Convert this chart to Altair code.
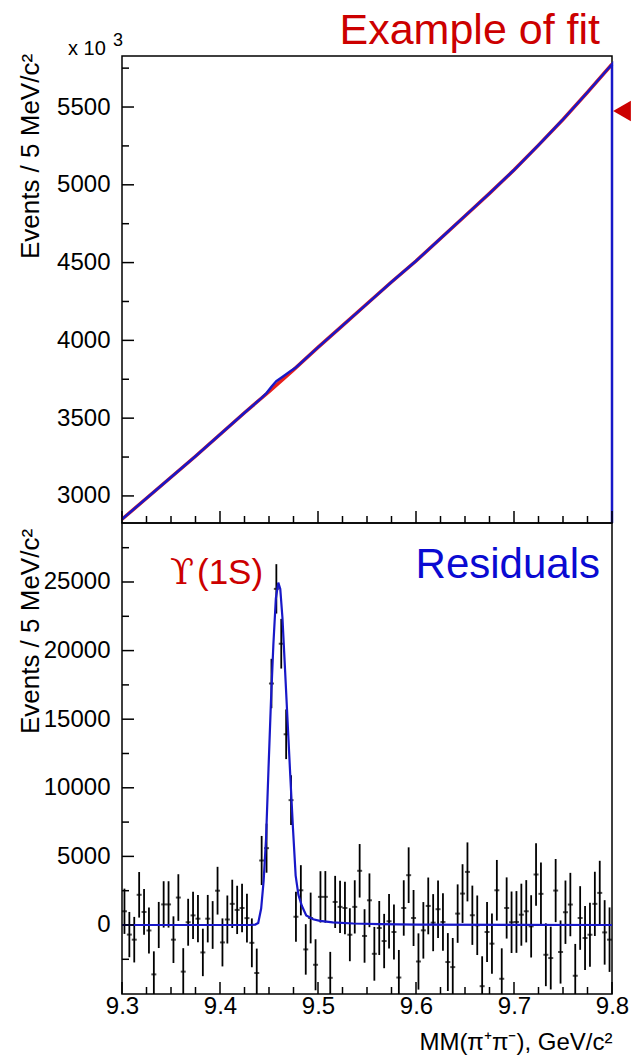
import altair as alt
import pandas as pd

FONT = "Liberation Sans"
RED = "#cc0000"
BLUE = "#1818c8"

# ---------------- top panel (events x10^3 / 5 MeV/c^2) ----------------
top_mass = [9.300, 9.325, 9.350, 9.375, 9.400, 9.425, 9.450, 9.475, 9.500, 9.525, 9.550,
            9.575, 9.600, 9.625, 9.650, 9.675, 9.700, 9.725, 9.750, 9.775, 9.800]
top_fit = [2850, 2985, 3120, 3255, 3395, 3535, 3670, 3810, 3955, 4095, 4235,
           4375, 4510, 4655, 4800, 4945, 5095, 5255, 5420, 5595, 5775]

data_mass = [9.300, 9.325, 9.350, 9.375, 9.400, 9.425, 9.4425, 9.4475, 9.4525, 9.4575,
             9.4625, 9.4675, 9.4725, 9.4775, 9.500, 9.525, 9.550, 9.575, 9.600, 9.625,
             9.650, 9.675, 9.700, 9.725, 9.750, 9.775, 9.800, 9.800]
data_events = [2850, 2985, 3120, 3255, 3395, 3535, 3630, 3661, 3702, 3737,
               3760, 3782, 3805, 3826, 3955, 4095, 4235, 4375, 4510, 4655,
               4800, 4945, 5095, 5255, 5420, 5595, 5775, 2826]

# ---------------- bottom panel: residuals ----------------
resid_values = [1000, -700, -1070, 2200, 950, -400, -3600, 0, 1500, 1500,
                -1070, 2000, -3400, 200, 700, 460, -2000, 460, 0, 2500,
                -1270, 400, 1540, 1100, 1240, 500, -1300, -3500, 4700, 5600,
                17600, 24500, 20500, 13900, 9100, 600, 2530, -1780, 510, -2900,
                2050, 2050, -3850, 1680, 1320, 1240, -710, 1320, 3950, -800,
                1800, -2100, -220, -1170, 270, -510, -3830, 1240, 3630, 510,
                -2660, -390, 1390, 170, 1150, 220, -2700, -3070, 830, 2290,
                3870, 710, -20, -4460, -510, -1360, 2530, -3920, 1240, 200,
                220, 750, 1000, -100, 3680, 2270, -2170, -2410, 2510, -1970,
                930, 1490, -3700, 510, -950, -710, 1540, 2340, -540, -1070]
resid_errors = [1650, 1650, 1660, 1660, 1670, 1670, 1680, 1680, 1690, 1690,
                1700, 1700, 1710, 1710, 1720, 1720, 1730, 1730, 1740, 1740,
                1750, 1750, 1760, 1760, 1770, 1770, 1780, 1780, 1790, 1790,
                1800, 1800, 1810, 1810, 1820, 1820, 1830, 1840, 1850, 1860,
                1870, 1880, 1890, 1900, 1910, 1920, 1930, 1940, 1950, 1950,
                1960, 1960, 1970, 1980, 1990, 2000, 2010, 2020, 2030, 2040,
                2050, 2060, 2070, 2080, 2090, 2100, 2110, 2120, 2130, 2140,
                2150, 2160, 2170, 2180, 2190, 2200, 2210, 2220, 2230, 2240,
                2250, 2260, 2270, 2270, 2280, 2280, 2290, 2290, 2300, 2300,
                2310, 2310, 2320, 2320, 2330, 2330, 2340, 2340, 2350, 2350]
bin_centers = [round(9.3025 + 0.005 * i, 4) for i in range(len(resid_values))]

fit_mass = [9.300, 9.430, 9.436, 9.439, 9.442, 9.4445, 9.447, 9.4495, 9.452, 9.4545,
            9.457, 9.4595, 9.4615, 9.4637, 9.4663, 9.469, 9.4717, 9.4745, 9.4772, 9.480,
            9.4835, 9.488, 9.495, 9.502, 9.515, 9.536, 9.563, 9.600, 9.700, 9.800]
fit_resid = [0, 0, 30, 150, 1200, 3200, 6300, 11400, 16300, 20500,
             23800, 24950, 24500, 22400, 18700, 14800, 10900, 7000, 3600, 2200,
             1400, 700, 420, 300, 190, 110, 60, 30, 10, 0]

# ---------------- axis tick values ----------------
x_major = [9.3, 9.4, 9.5, 9.6, 9.7, 9.8]
x_minor = [9.325, 9.35, 9.375, 9.425, 9.45, 9.475, 9.525, 9.55, 9.575, 9.625,
           9.65, 9.675, 9.725, 9.75, 9.775]
top_y_major = [3000, 3500, 4000, 4500, 5000, 5500]
top_y_minor = [3250, 3750, 4250, 4750, 5250, 5750]
bot_y_major = [0, 5000, 10000, 15000, 20000, 25000]
bot_y_minor = [-2500, 2500, 7500, 12500, 17500, 22500, 27500]

W = 490
H_TOP = 467
H_BOT = 471

xscale = alt.Scale(domain=[9.3, 9.8], nice=False, zero=False)
yscale_top = alt.Scale(domain=[2826, 5828], nice=False, zero=False)
yscale_bot = alt.Scale(domain=[-5030, 29300], nice=False, zero=False)


def y_axis(values, title_y):
    return alt.Axis(values=values, format="d", ticks=False, domain=False, grid=False,
                    labelFont=FONT, labelFontSize=24, labelColor="black", labelPadding=12,
                    title="Events / 5 MeV/c²", titleFont=FONT, titleFontSize=26,
                    titleFontWeight="normal", titleColor="black",
                    titleX=-79, titleY=title_y, titleAlign="center")


AX_TOP_Y = y_axis(top_y_major, 100)
AX_BOT_Y = y_axis(bot_y_major, 108)
AX_BOT_X = alt.Axis(values=x_major, format=".1f", ticks=False, domain=False, grid=False,
                    labelFont=FONT, labelFontSize=24, labelColor="black", labelPadding=0,
                    labelFlush=False, title="MM(π⁺π⁻), GeV/c²", titleFont=FONT,
                    titleFontSize=24, titleFontWeight="normal", titleColor="black",
                    titleAnchor="end", titlePadding=12)


def x_ticks(vals, length, H, axis):
    return alt.Chart(pd.DataFrame({"m": vals})).mark_rule(color="black", strokeWidth=1.5).encode(
        x=alt.X("m:Q", scale=xscale, axis=axis),
        y=alt.value(H), y2=alt.value(H - length))


def y_ticks(vals, length, scale, axis):
    return alt.Chart(pd.DataFrame({"v": vals})).mark_rule(color="black", strokeWidth=1.5, clip=True).encode(
        y=alt.Y("v:Q", scale=scale, axis=axis),
        x=alt.value(0), x2=alt.value(length))


def text(label, x, y, size, color, align="left", baseline="alphabetic", font=FONT):
    return alt.Chart(pd.DataFrame({"t": [label]})).mark_text(
        align=align, baseline=baseline, fontSize=size, font=font, color=color).encode(
        text="t:N", x=alt.value(x), y=alt.value(y))


# ---------------- top chart ----------------
df_fit_top = pd.DataFrame({"m": top_mass, "v": top_fit})
df_data_top = pd.DataFrame({"m": data_mass, "v": data_events, "o": list(range(len(data_mass)))})

fit_top = alt.Chart(df_fit_top).mark_line(color="#e8201c", strokeWidth=3.5).encode(
    x=alt.X("m:Q", scale=xscale, axis=None),
    y=alt.Y("v:Q", scale=yscale_top, axis=AX_TOP_Y))
data_top = alt.Chart(df_data_top).mark_line(color=BLUE, strokeWidth=2.5).encode(
    x=alt.X("m:Q", scale=xscale, axis=None),
    y=alt.Y("v:Q", scale=yscale_top, axis=AX_TOP_Y),
    order="o:Q")

arrow = alt.Chart(pd.DataFrame({"a": [1]})).mark_point(
    shape="triangle-left", filled=True, color=RED, opacity=1, size=420).encode(
    x=alt.value(500), y=alt.value(55))

top = alt.layer(
    fit_top, data_top,
    x_ticks(x_major, 12, H_TOP, None), x_ticks(x_minor, 7, H_TOP, None),
    y_ticks(top_y_major, 12, yscale_top, AX_TOP_Y), y_ticks(top_y_minor, 7, yscale_top, AX_TOP_Y),
    text("Example of fit", 478, -12, 43, RED, align="right"),
    text("x 10", -54, -7, 20, "black", baseline="middle"),
    text("3", -9, -15, 18, "black", baseline="middle"),
    arrow,
).properties(width=W, height=H_TOP)

# ---------------- bottom chart ----------------
df_res = pd.DataFrame({"m": bin_centers, "v": resid_values, "e": resid_errors})
df_res["lo"] = df_res["v"] - df_res["e"]
df_res["hi"] = df_res["v"] + df_res["e"]
df_fit_bot = pd.DataFrame({"m": fit_mass, "v": fit_resid})

bars = alt.Chart(df_res).mark_rule(color="black", strokeWidth=1.8, clip=True).encode(
    x=alt.X("m:Q", scale=xscale, axis=AX_BOT_X),
    y=alt.Y("lo:Q", scale=yscale_bot, axis=AX_BOT_Y),
    y2="hi:Q")
marks = alt.Chart(df_res).mark_tick(orient="horizontal", size=5, thickness=2, color="black", clip=True).encode(
    x=alt.X("m:Q", scale=xscale, axis=AX_BOT_X),
    y=alt.Y("v:Q", scale=yscale_bot, axis=AX_BOT_Y))
fit_bot = alt.Chart(df_fit_bot).mark_line(color=BLUE, strokeWidth=2.2, clip=True).encode(
    x=alt.X("m:Q", scale=xscale, axis=AX_BOT_X),
    y=alt.Y("v:Q", scale=yscale_bot, axis=AX_BOT_Y))

bottom = alt.layer(
    bars, marks, fit_bot,
    x_ticks(x_major, 12, H_BOT, AX_BOT_X), x_ticks(x_minor, 7, H_BOT, AX_BOT_X),
    y_ticks(bot_y_major, 12, yscale_bot, AX_BOT_Y), y_ticks(bot_y_minor, 7, yscale_bot, AX_BOT_Y),
    text("ϒ", 48, 61, 35, RED, font="DejaVu Serif"),
    text("(1S)", 75, 61, 35, RED),
    text("Residuals", 478, 55, 42, "#0a0ad2", align="right"),
).properties(width=W, height=H_BOT)

chart = alt.vconcat(top, bottom, spacing=0, bounds="flush").properties(
    padding={"left": 16, "top": 9, "right": 0, "bottom": 0}
).configure_view(stroke="black", strokeWidth=1.5)

chart.save("out.html", embed_options={"renderer": "svg", "actions": False})
